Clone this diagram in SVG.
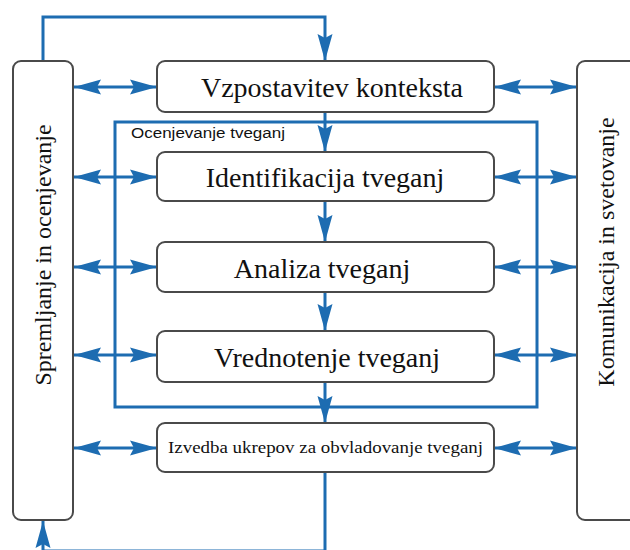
<svg xmlns="http://www.w3.org/2000/svg" width="630" height="550" viewBox="0 0 630 550">
<defs>
<style>
.box{fill:#fff;stroke:#4a4a4a;stroke-width:2}
.ln{stroke:#1d6cb1;stroke-width:3;fill:none}
.arr{stroke:#1d6cb1;stroke-width:3;fill:none;marker-end:url(#ah)}
.dbl{stroke:#1d6cb1;stroke-width:3;fill:none;marker-end:url(#ah);marker-start:url(#ahs)}
.big{font-family:"Liberation Serif",serif;font-size:28px;fill:#111;text-anchor:middle}
.side{font-family:"Liberation Serif",serif;font-size:24px;fill:#111;text-anchor:middle}
.sm{font-family:"Liberation Sans",sans-serif;font-size:14px;fill:#111}
.iz{font-family:"Liberation Serif",serif;font-size:16px;fill:#111}
</style>
<marker id="ah" markerUnits="userSpaceOnUse" markerWidth="30" markerHeight="18" refX="27" refY="8" orient="auto">
<path d="M0,0.5 L27,8 L0,15.5 L4,8 z" fill="#1d6cb1"/>
</marker>
<marker id="ahs" markerUnits="userSpaceOnUse" markerWidth="30" markerHeight="18" refX="27" refY="8" orient="auto-start-reverse">
<path d="M0,0.5 L27,8 L0,15.5 L4,8 z" fill="#1d6cb1"/>
</marker>
</defs>

<g id="connectors">
<polyline class="arr" points="43,60 43,17 325,17 325,61"/>
<line class="arr" x1="325" y1="112" x2="325" y2="152"/>
<line class="arr" x1="325" y1="201" x2="325" y2="242"/>
<line class="arr" x1="325" y1="292" x2="325" y2="331"/>
<line class="arr" x1="325" y1="382" x2="325" y2="423"/>
<line class="ln" x1="325" y1="472" x2="325" y2="552"/>
<polyline class="arr" points="325,551 43,551 43,521"/>
<line class="dbl" x1="74" y1="87" x2="157" y2="87"/>
<line class="dbl" x1="494" y1="87" x2="577" y2="87"/>
<line class="dbl" x1="74" y1="177" x2="157" y2="177"/>
<line class="dbl" x1="494" y1="177" x2="577" y2="177"/>
<line class="dbl" x1="74" y1="267" x2="157" y2="267"/>
<line class="dbl" x1="494" y1="267" x2="577" y2="267"/>
<line class="dbl" x1="74" y1="355" x2="157" y2="355"/>
<line class="dbl" x1="494" y1="355" x2="577" y2="355"/>
<line class="dbl" x1="74" y1="448" x2="157" y2="448"/>
<line class="dbl" x1="494" y1="448" x2="577" y2="448"/>
</g>

<g id="ocenjevanje">
<rect class="ln" x="115" y="122" width="422" height="285"/>
<text class="sm" x="131" y="138" textLength="154" lengthAdjust="spacingAndGlyphs">Ocenjevanje tveganj</text>
</g>

<g id="spremljanje">
<rect class="box" x="13" y="61" width="60" height="459" rx="8"/>
<text class="side" transform="translate(51,255) rotate(-90)">Spremljanje in ocenjevanje</text>
</g>

<g id="komunikacija">
<rect class="box" x="577" y="61" width="70" height="459" rx="8"/>
<text class="side" transform="translate(614,252) rotate(-90)">Komunikacija in svetovanje</text>
</g>

<g id="vzpostavitev">
<rect class="box" x="157" y="61" width="337" height="51" rx="8"/>
<text class="big" x="332" y="97">Vzpostavitev konteksta</text>
</g>

<g id="identifikacija">
<rect class="box" x="157" y="152" width="337" height="49" rx="8"/>
<text class="big" x="325" y="187">Identifikacija tveganj</text>
</g>

<g id="analiza">
<rect class="box" x="157" y="242" width="337" height="50" rx="8"/>
<text class="big" x="322" y="278">Analiza tveganj</text>
</g>

<g id="vrednotenje">
<rect class="box" x="157" y="331" width="337" height="51" rx="8"/>
<text class="big" x="327" y="367">Vrednotenje tveganj</text>
</g>

<g id="izvedba">
<rect class="box" x="157" y="423" width="337" height="49" rx="8"/>
<text class="iz" x="168" y="453" textLength="315" lengthAdjust="spacingAndGlyphs">Izvedba ukrepov za obvladovanje tveganj</text>
</g>
</svg>
